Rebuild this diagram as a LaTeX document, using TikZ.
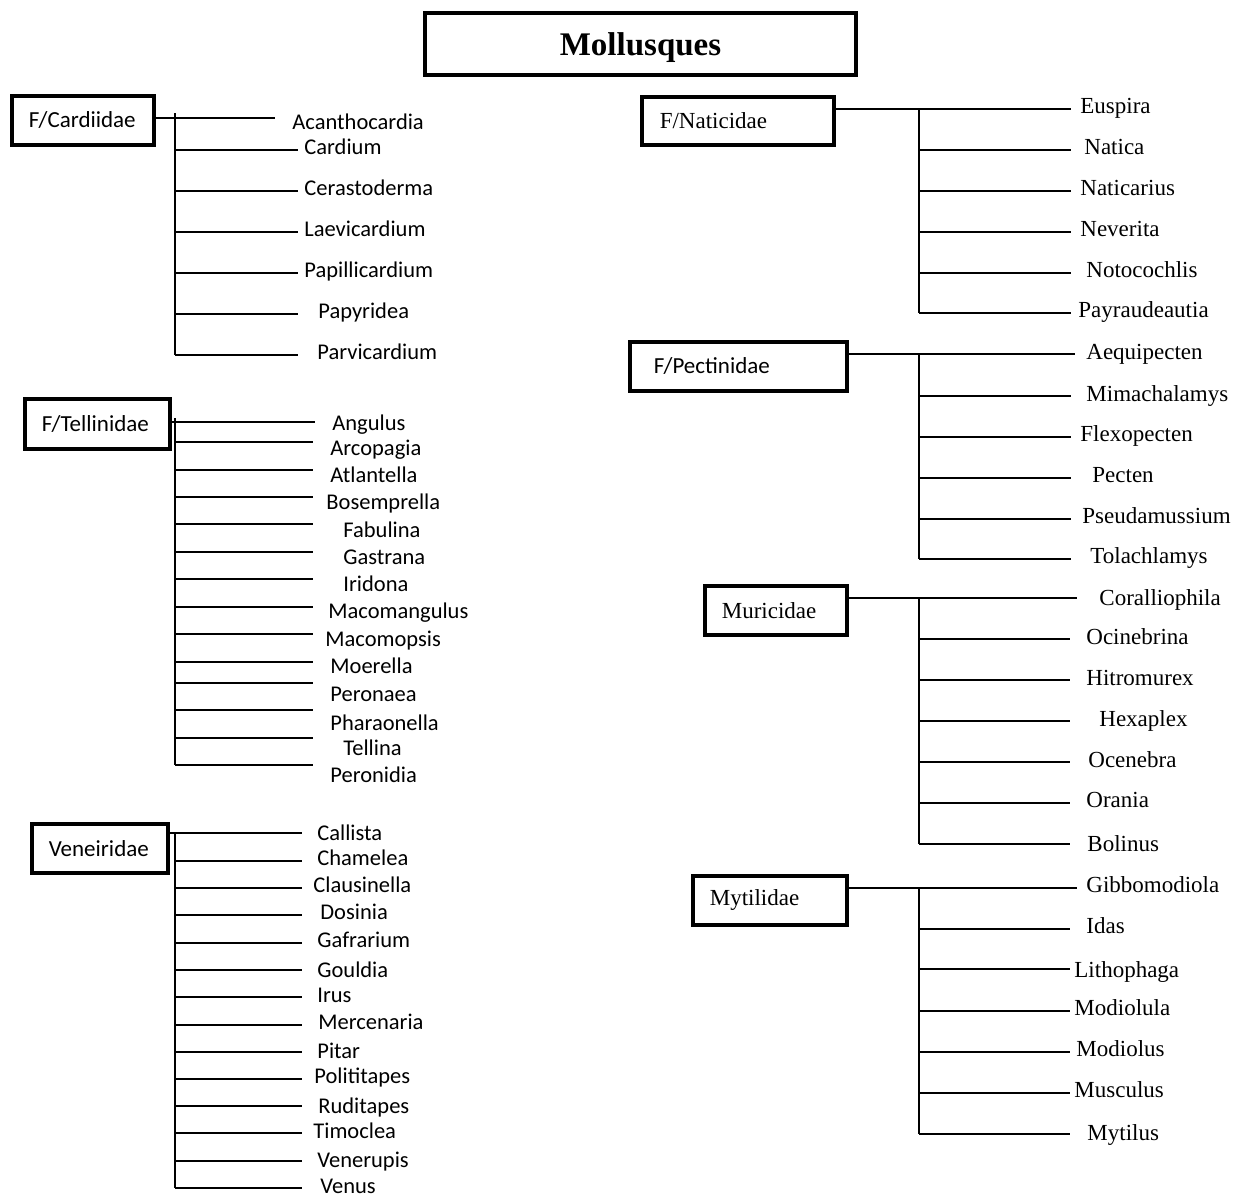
\documentclass[tikz,border=0pt]{standalone}
\usepackage{fontspec}
\setmainfont{Liberation Serif}
\newfontfamily\calibri{Carlito}
\begin{document}
\begin{tikzpicture}[x=0.5pt,y=-0.5pt,
  link/.style={line width=0.8pt},
  fambox/.style={draw, line width=1.8pt, anchor=north west, align=left, inner ysep=0pt},
  famcal/.style={fambox, font=\calibri\fontsize{11.5}{13}\selectfont},
  famtim/.style={fambox, font=\fontsize{11.5}{13}\selectfont},
  gcal/.style={anchor=base west, inner sep=0pt, font=\calibri\fontsize{11.25}{13}\selectfont},
  gtim/.style={anchor=base west, inner sep=0pt, font=\fontsize{11.5}{13}\selectfont},
]
\useasboundingbox (0,0) rectangle (1240,1196);

% Title
\node[draw, line width=2pt, minimum width=215.5pt, minimum height=31pt, inner sep=0pt,
      text height=11pt, text depth=0pt,
      font=\bfseries\fontsize{16.5}{18}\selectfont] (title) at (640.5,44) {Mollusques};

% ---------- F/Cardiidae ----------
\node[famcal, inner xsep=8.5pt, text width=54pt, minimum height=24.5pt] (card) at (10,94) {F/Cardiidae};
\coordinate (card-t) at (175,113);
\coordinate (card-b) at (175,355);
\draw[link] (card-t) -- (card-b);
\coordinate (card-e1) at (275,118);
\draw[link] (card.east |- card-e1) -- (card-e1);
\foreach \y [count=\i from 2] in {150,191,232,273,314,355}{
  \coordinate (card-s\i) at (175,\y);
  \coordinate (card-e\i) at (298,\y);
  \draw[link] (card-s\i) -- (card-e\i);
}
\foreach \x/\y/\t [count=\i] in {292/129/Acanthocardia, 304/154/Cardium, 304/195/Cerastoderma,
  304/236/Laevicardium, 304/277/Papillicardium, 318/318/Papyridea, 317/359/Parvicardium}{
  \node[gcal] (card-g\i) at (\x,\y) {\t};
}

% ---------- F/Tellinidae ----------
\node[famcal, inner xsep=8.5pt, text width=55.5pt, minimum height=25pt] (tell) at (23,397) {F/Tellinidae};
\coordinate (tell-t) at (175,418);
\coordinate (tell-b) at (175,765);
\draw[link] (tell-t) -- (tell-b);
\coordinate (tell-e1) at (315,422);
\draw[link] (tell.east |- tell-e1) -- (tell-e1);
\foreach \y [count=\i from 2] in {442,470,497,524,552,579,607,634,662,683,710,738,765}{
  \coordinate (tell-s\i) at (175,\y);
  \coordinate (tell-e\i) at (313,\y);
  \draw[link] (tell-s\i) -- (tell-e\i);
}
\foreach \x/\y/\t [count=\i] in {332/430/Angulus, 330/455/Arcopagia, 330/482/Atlantella,
  326/509/Bosemprella, 343/537/Fabulina, 343/564/Gastrana, 343/591/Iridona,
  328/618/Macomangulus, 325/646/Macomopsis, 330/673/Moerella, 330/701/Peronaea,
  330/730/Pharaonella, 343/755/Tellina, 330/782/Peronidia}{
  \node[gcal] (tell-g\i) at (\x,\y) {\t};
}

% ---------- Veneiridae ----------
\node[famcal, inner xsep=8.5pt, text width=51pt, minimum height=24.5pt] (vene) at (30,822) {Veneiridae};
\coordinate (vene-t) at (175,833);
\coordinate (vene-b) at (175,1188);
\draw[link] (vene-t) -- (vene-b);
\coordinate (vene-e1) at (302,833);
\draw[link] (vene.east |- vene-e1) -- (vene-e1);
\foreach \y [count=\i from 2] in {861,888,915,943,970,997,1025,1052,1079,1106,1133,1161,1188}{
  \coordinate (vene-s\i) at (175,\y);
  \coordinate (vene-e\i) at (302,\y);
  \draw[link] (vene-s\i) -- (vene-e\i);
}
\foreach \x/\y/\t [count=\i] in {317/840/Callista, 317/865/Chamelea, 313/892/Clausinella,
  320/919/Dosinia, 317/947/Gafrarium, 317/977/Gouldia, 317/1002/Irus,
  318/1029/Mercenaria, 317/1058/Pitar, 314/1083/Polititapes, 318/1113/Ruditapes,
  313/1138/Timoclea, 317/1167/Venerupis, 320/1193/Venus}{
  \node[gcal] (vene-g\i) at (\x,\y) {\t};
}

% ---------- F/Naticidae ----------
\node[famtim, inner xsep=9pt, text width=78pt, minimum height=24pt] (nati) at (640,95) {F/Naticidae};
\coordinate (nati-t) at (919,109);
\coordinate (nati-b) at (919,313);
\draw[link] (nati-t) -- (nati-b);
\coordinate (nati-e1) at (1071,109);
\draw[link] (nati.east |- nati-e1) -- (nati-e1);
\foreach \y [count=\i from 2] in {150,191,232,273,313}{
  \coordinate (nati-s\i) at (919,\y);
  \coordinate (nati-e\i) at (1071,\y);
  \draw[link] (nati-s\i) -- (nati-e\i);
}
\foreach \x/\y/\t [count=\i] in {1080/113/Euspira, 1084/154/Natica, 1080/195/Naticarius,
  1080/236/Neverita, 1086/277/Notocochlis, 1078/317/Payraudeautia}{
  \node[gtim] (nati-g\i) at (\x,\y) {\t};
}

% ---------- F/Pectinidae ----------
\node[famcal, inner xsep=12pt, text width=84.5pt, minimum height=24.5pt] (pect) at (628,340) {F/Pectinidae};
\coordinate (pect-t) at (919,354);
\coordinate (pect-b) at (919,559);
\draw[link] (pect-t) -- (pect-b);
\coordinate (pect-e1) at (1075,354);
\draw[link] (pect.east |- pect-e1) -- (pect-e1);
\foreach \y [count=\i from 2] in {396,437,478,519,559}{
  \coordinate (pect-s\i) at (919,\y);
  \coordinate (pect-e\i) at (1071,\y);
  \draw[link] (pect-s\i) -- (pect-e\i);
}
\foreach \x/\y/\t [count=\i] in {1086/359/Aequipecten, 1086/401/Mimachalamys, 1080/441/Flexopecten,
  1092/482/Pecten, 1082/523/Pseudamussium, 1090/563/Tolachlamys}{
  \node[gtim] (pect-g\i) at (\x,\y) {\t};
}

% ---------- Muricidae ----------
\node[famtim, inner xsep=8.5pt, text width=54pt, minimum height=24.5pt] (muri) at (703,584) {Muricidae};
\coordinate (muri-t) at (919,598);
\coordinate (muri-b) at (919,844);
\draw[link] (muri-t) -- (muri-b);
\coordinate (muri-e1) at (1077,598);
\draw[link] (muri.east |- muri-e1) -- (muri-e1);
\foreach \y [count=\i from 2] in {639,680,721,762,803,844}{
  \coordinate (muri-s\i) at (919,\y);
  \coordinate (muri-e\i) at (1070,\y);
  \draw[link] (muri-s\i) -- (muri-e\i);
}
\foreach \x/\y/\t [count=\i] in {1099/605/Coralliophila, 1086/644/Ocinebrina, 1086/685/Hitromurex,
  1099/726/Hexaplex, 1088/767/Ocenebra, 1086/807/Orania, 1087/851/Bolinus}{
  \node[gtim] (muri-g\i) at (\x,\y) {\t};
}

% ---------- Mytilidae ----------
\node[famtim, inner xsep=8.5pt, text width=60pt, minimum height=24.5pt] (myti) at (691,874) {Mytilidae};
\coordinate (myti-t) at (919,888);
\coordinate (myti-b) at (919,1134);
\draw[link] (myti-t) -- (myti-b);
\coordinate (myti-e1) at (1077,888);
\draw[link] (myti.east |- myti-e1) -- (myti-e1);
\foreach \y [count=\i from 2] in {929,969,1011,1052,1093,1134}{
  \coordinate (myti-s\i) at (919,\y);
  \coordinate (myti-e\i) at (1070,\y);
  \draw[link] (myti-s\i) -- (myti-e\i);
}
\foreach \x/\y/\t [count=\i] in {1086/892/Gibbomodiola, 1086/933/Idas, 1074/977/Lithophaga,
  1074/1015/Modiolula, 1076/1056/Modiolus, 1074/1097/Musculus, 1087/1140/Mytilus}{
  \node[gtim] (myti-g\i) at (\x,\y) {\t};
}
\end{tikzpicture}
\end{document}
